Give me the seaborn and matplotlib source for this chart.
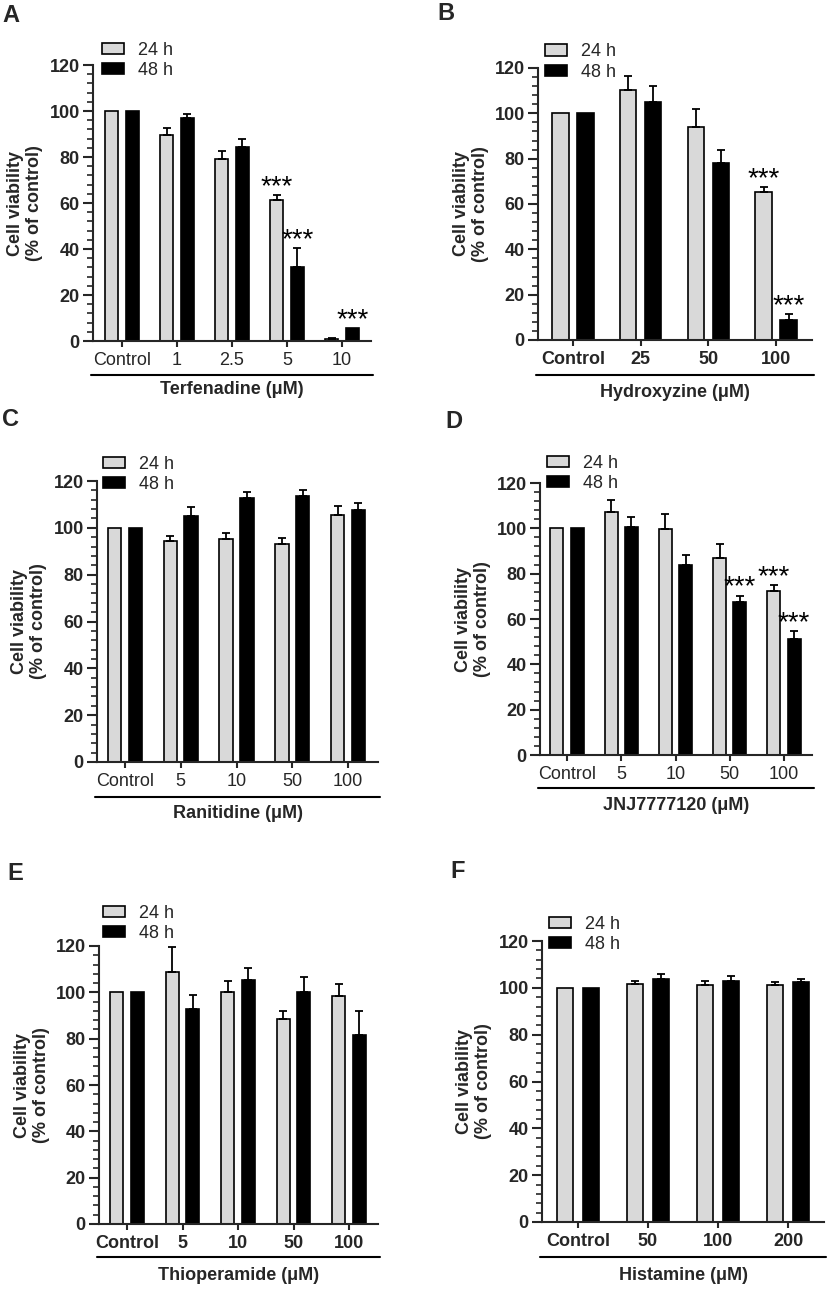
import numpy as np
import pandas as pd
import matplotlib
matplotlib.use("Agg")
import matplotlib.pyplot as plt
from matplotlib.ticker import MultipleLocator
from matplotlib.lines import Line2D
import seaborn as sns

# ---- data ----
times = ["24 h", "48 h"]

terf_doses = ["Control", "1", "2.5", "5", "10"]
terf_24 = [100, 89.5, 79.3, 61.3, 0.7]
terf_24_sd = [0, 3.2, 3.3, 2.0, 0.4]
terf_48 = [100, 97.1, 84.5, 32.0, 5.5]
terf_48_sd = [0, 1.6, 3.5, 8.3, 0]

hydr_doses = ["Control", "25", "50", "100"]
hydr_24 = [100, 110.5, 94.1, 65.1]
hydr_24_sd = [0, 6.0, 8.0, 2.4]
hydr_48 = [100, 104.9, 78.1, 8.9]
hydr_48_sd = [0, 7.2, 5.8, 2.4]

rani_doses = ["Control", "5", "10", "50", "100"]
rani_24 = [100, 94.4, 95.2, 93.3, 105.6]
rani_24_sd = [0, 2.0, 2.5, 2.3, 3.7]
rani_48 = [100, 105.1, 112.8, 113.7, 107.5]
rani_48_sd = [0, 3.7, 2.6, 2.4, 3.2]

jnj_doses = ["Control", "5", "10", "50", "100"]
jnj_24 = [100, 107.0, 99.8, 87.0, 72.4]
jnj_24_sd = [0, 5.4, 6.5, 6.2, 2.4]
jnj_48 = [100, 100.6, 83.8, 67.6, 51.2]
jnj_48_sd = [0, 4.2, 4.4, 2.7, 3.4]

thio_doses = ["Control", "5", "10", "50", "100"]
thio_24 = [100, 108.6, 100.0, 88.5, 98.6]
thio_24_sd = [0, 10.8, 4.9, 3.5, 4.9]
thio_48 = [100, 92.8, 105.2, 100.2, 81.4]
thio_48_sd = [0, 5.9, 5.4, 6.3, 10.6]

hist_doses = ["Control", "50", "100", "200"]
hist_24 = [100, 101.6, 101.0, 101.0]
hist_24_sd = [0, 1.4, 2.0, 1.4]
hist_48 = [100, 103.7, 102.8, 102.4]
hist_48_sd = [0, 2.0, 2.2, 1.4]

# significance marks: (dose index, time index)
terf_stars = [(3, 0), (3, 1), (4, 1)]
hydr_stars = [(3, 0), (3, 1)]
jnj_stars = [(3, 1), (4, 0), (4, 1)]

W, H = 830, 1290
sns.set_style("ticks")
plt.rcParams["font.family"] = ["Liberation Sans", "DejaVu Sans"]

fig = plt.figure(figsize=(W / 100, H / 100), dpi=100)


def fx(px):
    return px / W


def fy(py):
    return 1 - py / H


panels = [
    dict(letter="A", doses=terf_doses, v24=terf_24, s24=terf_24_sd, v48=terf_48, s48=terf_48_sd,
         stars=terf_stars, xlabel="Terfenadine (μM)", L=93, R=371, y0=341, y120=65, t0=122, sp=55,
         ul=375, xl=390, yl=25, leg=(102, 60.5), let=(2, 15), boldx=False),
    dict(letter="B", doses=hydr_doses, v24=hydr_24, s24=hydr_24_sd, v48=hydr_48, s48=hydr_48_sd,
         stars=hydr_stars, xlabel="Hydroxyzine (μM)", L=538, R=812, y0=340, y120=68, t0=573, sp=67.7,
         ul=375, xl=393, yl=471, leg=(545, 62), let=(437, 13), boldx=True),
    dict(letter="C", doses=rani_doses, v24=rani_24, s24=rani_24_sd, v48=rani_48, s48=rani_48_sd,
         stars=[], xlabel="Ranitidine (μM)", L=97, R=378, y0=762, y120=481, t0=125, sp=55.75,
         ul=797, xl=813, yl=29, leg=(103, 474.5), let=(2, 420), boldx=False),
    dict(letter="D", doses=jnj_doses, v24=jnj_24, s24=jnj_24_sd, v48=jnj_48, s48=jnj_48_sd,
         stars=jnj_stars, xlabel="JNJ7777120 (μM)", L=540, R=812, y0=755, y120=483, t0=567, sp=54.25,
         ul=788, xl=805, yl=473, leg=(547, 473.5), let=(445, 422), boldx=False),
    dict(letter="E", doses=thio_doses, v24=thio_24, s24=thio_24_sd, v48=thio_48, s48=thio_48_sd,
         stars=[], xlabel="Thioperamide (μM)", L=99, R=378, y0=1224, y120=946, t0=127, sp=55.5,
         ul=1257, xl=1275, yl=32, leg=(103, 923.5), let=(7, 873), boldx=True),
    dict(letter="F", doses=hist_doses, v24=hist_24, s24=hist_24_sd, v48=hist_48, s48=hist_48_sd,
         stars=[], xlabel="Histamine (μM)", L=542, R=824, y0=1222, y120=941, t0=578, sp=70,
         ul=1257, xl=1275, yl=474, leg=(549, 934.5), let=(450, 872), boldx=True),
]

for p in panels:
    ax = fig.add_axes([fx(p["L"]), fy(p["y0"]), fx(p["R"] - p["L"]), (p["y0"] - p["y120"]) / H])
    n = len(p["doses"])
    df = pd.DataFrame({
        "dose": p["doses"] * 2,
        "time": [times[0]] * n + [times[1]] * n,
        "viability": list(p["v24"]) + list(p["v48"]),
    })
    sns.barplot(data=df, x="dose", y="viability", hue="time", order=p["doses"], hue_order=times,
                palette={"24 h": "#d9d9d9", "48 h": "black"}, edgecolor="black", linewidth=1.2,
                width=0.74, gap=0.35, errorbar=None, ax=ax)

    bar_sets = list(ax.containers)
    tops = []
    for cont, sd in zip(bar_sets, [p["s24"], p["s48"]]):
        xs = np.array([b.get_x() + b.get_width() / 2 for b in cont])
        ys = np.array([b.get_height() for b in cont])
        sd = np.array(sd, dtype=float)
        m = sd > 0
        ax.errorbar(xs[m], ys[m], yerr=[np.zeros(m.sum()), sd[m]], fmt="none", ecolor="black",
                    elinewidth=1.3, capsize=3.2, capthick=1.3, zorder=3)
        tops.append((xs, ys + sd))

    for di, ti in p["stars"]:
        xs, tt = tops[ti]
        ax.text(xs[di], tt[di] + 0.5, "***", ha="center", va="baseline", fontsize=20,
                color="black", clip_on=False)

    ax.set_ylim(0, 120)
    ax.set_xlim((p["L"] - p["t0"]) / p["sp"], (p["R"] - p["t0"]) / p["sp"])
    ax.yaxis.set_major_locator(MultipleLocator(20))
    ax.yaxis.set_minor_locator(MultipleLocator(4))
    ax.set_xlabel("")
    ax.set_ylabel("")
    for s in ["top", "right"]:
        ax.spines[s].set_visible(False)
    for s in ["left", "bottom"]:
        ax.spines[s].set_linewidth(1.5)
    ax.tick_params(axis="y", which="major", length=7.5, width=1.5, pad=2, labelsize=13)
    ax.tick_params(axis="y", which="minor", length=4, width=1.2)
    ax.tick_params(axis="x", which="major", length=4.5, width=1.5, pad=3.5, labelsize=13)
    for lab in ax.get_yticklabels():
        lab.set_fontweight("bold")
    if p["boldx"]:
        for lab in ax.get_xticklabels():
            lab.set_fontweight("bold")

    sns.move_legend(ax, "center left", bbox_to_anchor=(fx(p["leg"][0]), fy(p["leg"][1])),
                    bbox_transform=fig.transFigure, frameon=False, title=None, fontsize=13,
                    handlelength=1.2, handleheight=0.6, handletextpad=0.8, labelspacing=0.18,
                    borderpad=0, borderaxespad=0)

    # underline and drug label below the categories
    fig.add_artist(Line2D([fx(p["L"] - 2), fx(p["R"] + 2)], [fy(p["ul"])] * 2, color="black", lw=1.5))
    fig.text(fx((p["L"] + p["R"]) / 2), fy(p["xl"]), p["xlabel"], ha="center", va="center",
             fontsize=13, fontweight="bold")
    fig.text(fx(p["yl"]), fy((p["y0"] + p["y120"]) / 2), "Cell viability\n(% of control)",
             rotation=90, ha="center", va="center", fontsize=13, fontweight="bold",
             linespacing=1.1)
    fig.text(fx(p["let"][0]), fy(p["let"][1]), p["letter"], ha="left", va="center",
             fontsize=17, fontweight="bold")

fig.savefig("out.png", dpi=100)
